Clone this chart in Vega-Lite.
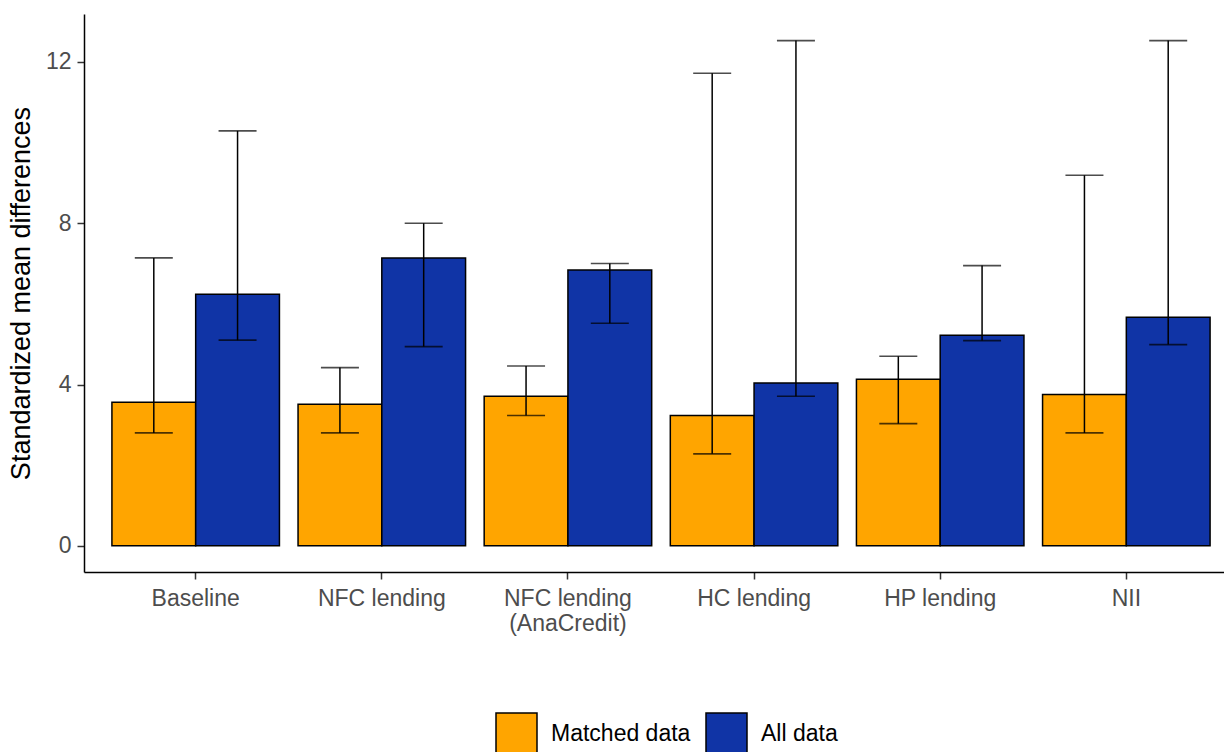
{
  "$schema": "https://vega.github.io/schema/vega-lite/v6.json",
  "width": 1140,
  "height": 558,
  "autosize": {"type": "none"},
  "padding": {"left": 84, "top": 14, "right": 0, "bottom": 180},
  "background": "white",
  "config": {
    "font": "Arial, Liberation Sans, sans-serif",
    "view": {"stroke": null},
    "axis": {
      "grid": false,
      "domainColor": "black",
      "domainWidth": 1.5,
      "tickColor": "#333333",
      "tickWidth": 1.5,
      "tickSize": 7,
      "labelColor": "#4D4D4D",
      "labelFontSize": 23,
      "labelFont": "Arial, Liberation Sans, sans-serif",
      "titleFont": "Arial, Liberation Sans, sans-serif",
      "titleColor": "black",
      "titleFontWeight": "normal"
    }
  },
  "data": {
    "values": [
      {"category": "Baseline", "group": "Matched data", "value": 3.56, "lo": 2.80, "hi": 7.14},
      {"category": "Baseline", "group": "All data", "value": 6.24, "lo": 5.10, "hi": 10.29},
      {"category": "NFC lending", "group": "Matched data", "value": 3.51, "lo": 2.80, "hi": 4.42},
      {"category": "NFC lending", "group": "All data", "value": 7.14, "lo": 4.94, "hi": 8.00},
      {"category": "NFC lending (AnaCredit)", "group": "Matched data", "value": 3.71, "lo": 3.23, "hi": 4.46},
      {"category": "NFC lending (AnaCredit)", "group": "All data", "value": 6.84, "lo": 5.52, "hi": 7.00},
      {"category": "HC lending", "group": "Matched data", "value": 3.23, "lo": 2.28, "hi": 11.72},
      {"category": "HC lending", "group": "All data", "value": 4.04, "lo": 3.71, "hi": 12.53},
      {"category": "HP lending", "group": "Matched data", "value": 4.13, "lo": 3.03, "hi": 4.70},
      {"category": "HP lending", "group": "All data", "value": 5.22, "lo": 5.09, "hi": 6.95},
      {"category": "NII", "group": "Matched data", "value": 3.75, "lo": 2.80, "hi": 9.19},
      {"category": "NII", "group": "All data", "value": 5.67, "lo": 4.99, "hi": 12.53}
    ]
  },
  "encoding": {
    "x": {
      "field": "category",
      "type": "nominal",
      "sort": ["Baseline", "NFC lending", "NFC lending (AnaCredit)", "HC lending", "HP lending", "NII"],
      "scale": {"paddingInner": 0.1, "paddingOuter": 0.15, "range": [0, 1154]},
      "axis": {
        "title": null,
        "labelAngle": 0,
        "labelPadding": 8,
        "labelLineHeight": 25,
        "labelExpr": "datum.value == 'NFC lending (AnaCredit)' ? ['NFC lending', '(AnaCredit)'] : datum.value"
      }
    },
    "xOffset": {
      "field": "group",
      "type": "nominal",
      "sort": ["Matched data", "All data"],
      "scale": {"paddingInner": 0, "paddingOuter": 0}
    }
  },
  "layer": [
    {
      "mark": {"type": "bar", "stroke": "black", "strokeWidth": 1.5},
      "encoding": {
        "y": {
          "field": "value",
          "type": "quantitative",
          "scale": {"domain": [-0.65, 13.19], "nice": false, "zero": false},
          "axis": {
            "title": "Standardized mean differences",
            "titleFontSize": 27,
            "titlePadding": 10,
            "values": [0, 4, 8, 12],
            "labelPadding": 6
          }
        },
        "y2": {"datum": 0},
        "color": {
          "field": "group",
          "type": "nominal",
          "sort": ["Matched data", "All data"],
          "scale": {"domain": ["Matched data", "All data"], "range": ["#FFA500", "#1034A6"]},
          "legend": {
            "title": null,
            "orient": "none",
            "direction": "horizontal",
            "legendX": 411,
            "legendY": 698,
            "padding": 0,
            "symbolType": "square",
            "symbolSize": 1681,
            "symbolStrokeColor": "black",
            "symbolStrokeWidth": 1.5,
            "symbolOpacity": 1,
            "labelFontSize": 23,
            "labelColor": "black",
            "labelOffset": 13,
            "columnPadding": 12,
            "labelLimit": 300
          }
        }
      }
    },
    {
      "mark": {"type": "rule", "color": "black", "strokeWidth": 1.5},
      "encoding": {
        "y": {"field": "lo", "type": "quantitative"},
        "y2": {"field": "hi"}
      }
    },
    {
      "mark": {"type": "tick", "orient": "horizontal", "color": "black", "size": 38, "thickness": 1.6},
      "encoding": {
        "y": {"field": "lo", "type": "quantitative"}
      }
    },
    {
      "mark": {"type": "tick", "orient": "horizontal", "color": "black", "size": 38, "thickness": 1.6},
      "encoding": {
        "y": {"field": "hi", "type": "quantitative"}
      }
    }
  ]
}
